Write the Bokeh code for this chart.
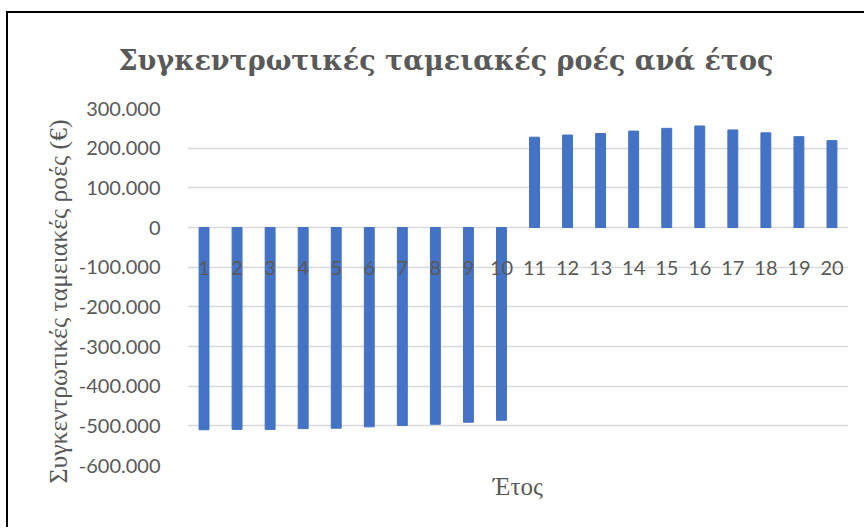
from bokeh.plotting import figure
from bokeh.models import FactorRange, Range1d, FixedTicker, ColumnDataSource, Title
from bokeh.core.properties import value
from bokeh.embed import file_html
from bokeh.resources import INLINE

years = [str(i) for i in range(1, 21)]
cash_flows = [-510000, -509000, -509000, -507000, -506000, -502500, -499000, -496000, -491000, -486000,
              227700, 233000, 237000, 243000, 250000, 256000, 246000, 238600, 229000, 219000]
y_ticks = [-600000, -500000, -400000, -300000, -200000, -100000, 0, 100000, 200000, 300000]
y_tick_labels = ["-600.000", "-500.000", "-400.000", "-300.000", "-200.000", "-100.000", "0",
                 "100.000", "200.000", "300.000"]
title_text = "Συγκεντρωτικές ταμειακές ροές ανά έτος"
y_title = "Συγκεντρωτικές ταμειακές ροές (€)"
x_title = "Έτος"

GREY = "#595959"
BAR = "#4472C4"
SERIF = "Liberation Serif"

src = ColumnDataSource(dict(x=years, top=cash_flows, zero=[0] * len(years)))

p = figure(width=858, height=516, output_backend="svg", toolbar_location=None,
           x_range=FactorRange(*years, range_padding=0),
           y_range=Range1d(y_ticks[0], y_ticks[-1]),
           x_axis_location=None,
           min_border_left=179, min_border_right=18, min_border_top=95, min_border_bottom=64)

p.vbar(x="x", top="top", width=0.3, source=src, color=BAR)
p.text(x="x", y="zero", text="x", source=src, text_align="center", text_baseline="alphabetic",
       y_offset=40, text_font=value("Lato"), text_font_size="20px", text_color=GREY)

p.title.text = title_text
p.title.text_font = "DejaVu Serif"
p.title.text_font_size = "27px"
p.title.text_font_style = "bold"
p.title.text_color = GREY
p.title.align = "left"
p.title.vertical_align = "top"
p.title.offset = -69
p.title.standoff = 61

xt = Title(text=x_title, align="center", text_font=SERIF, text_font_size="25px",
           text_font_style="normal", text_color=GREY, standoff=10)
p.add_layout(xt, "below")

yt = Title(text=y_title, align="left", text_font=SERIF, text_font_size="25.7px",
           text_font_style="normal", text_color=GREY, standoff=5, offset=-18)
p.add_layout(yt, "left")

p.outline_line_color = None
p.background_fill_color = "white"
p.border_fill_color = "white"

p.xgrid.grid_line_color = None
p.ygrid.grid_line_color = "#D9D9D9"
p.ygrid.grid_line_width = 1.5

yax = p.yaxis[0]
yax.ticker = FixedTicker(ticks=y_ticks)
yax.major_label_overrides = {t: l for t, l in zip(y_ticks, y_tick_labels)}
yax.axis_line_color = None
yax.major_tick_line_color = None
yax.minor_tick_line_color = None
yax.major_label_standoff = 21
yax.major_label_text_font = "Lato"
yax.major_label_text_font_size = "20px"
yax.major_label_text_color = GREY

p.styles = {"margin-left": "6px", "margin-top": "11px",
            "border-left": "2px solid black", "border-top": "2px solid black"}

html = file_html(p, INLINE)
html = html.replace("<head>", "<head><style>html,body{margin:0;padding:0;}</style>", 1)
open("out.html", "w").write(html)
